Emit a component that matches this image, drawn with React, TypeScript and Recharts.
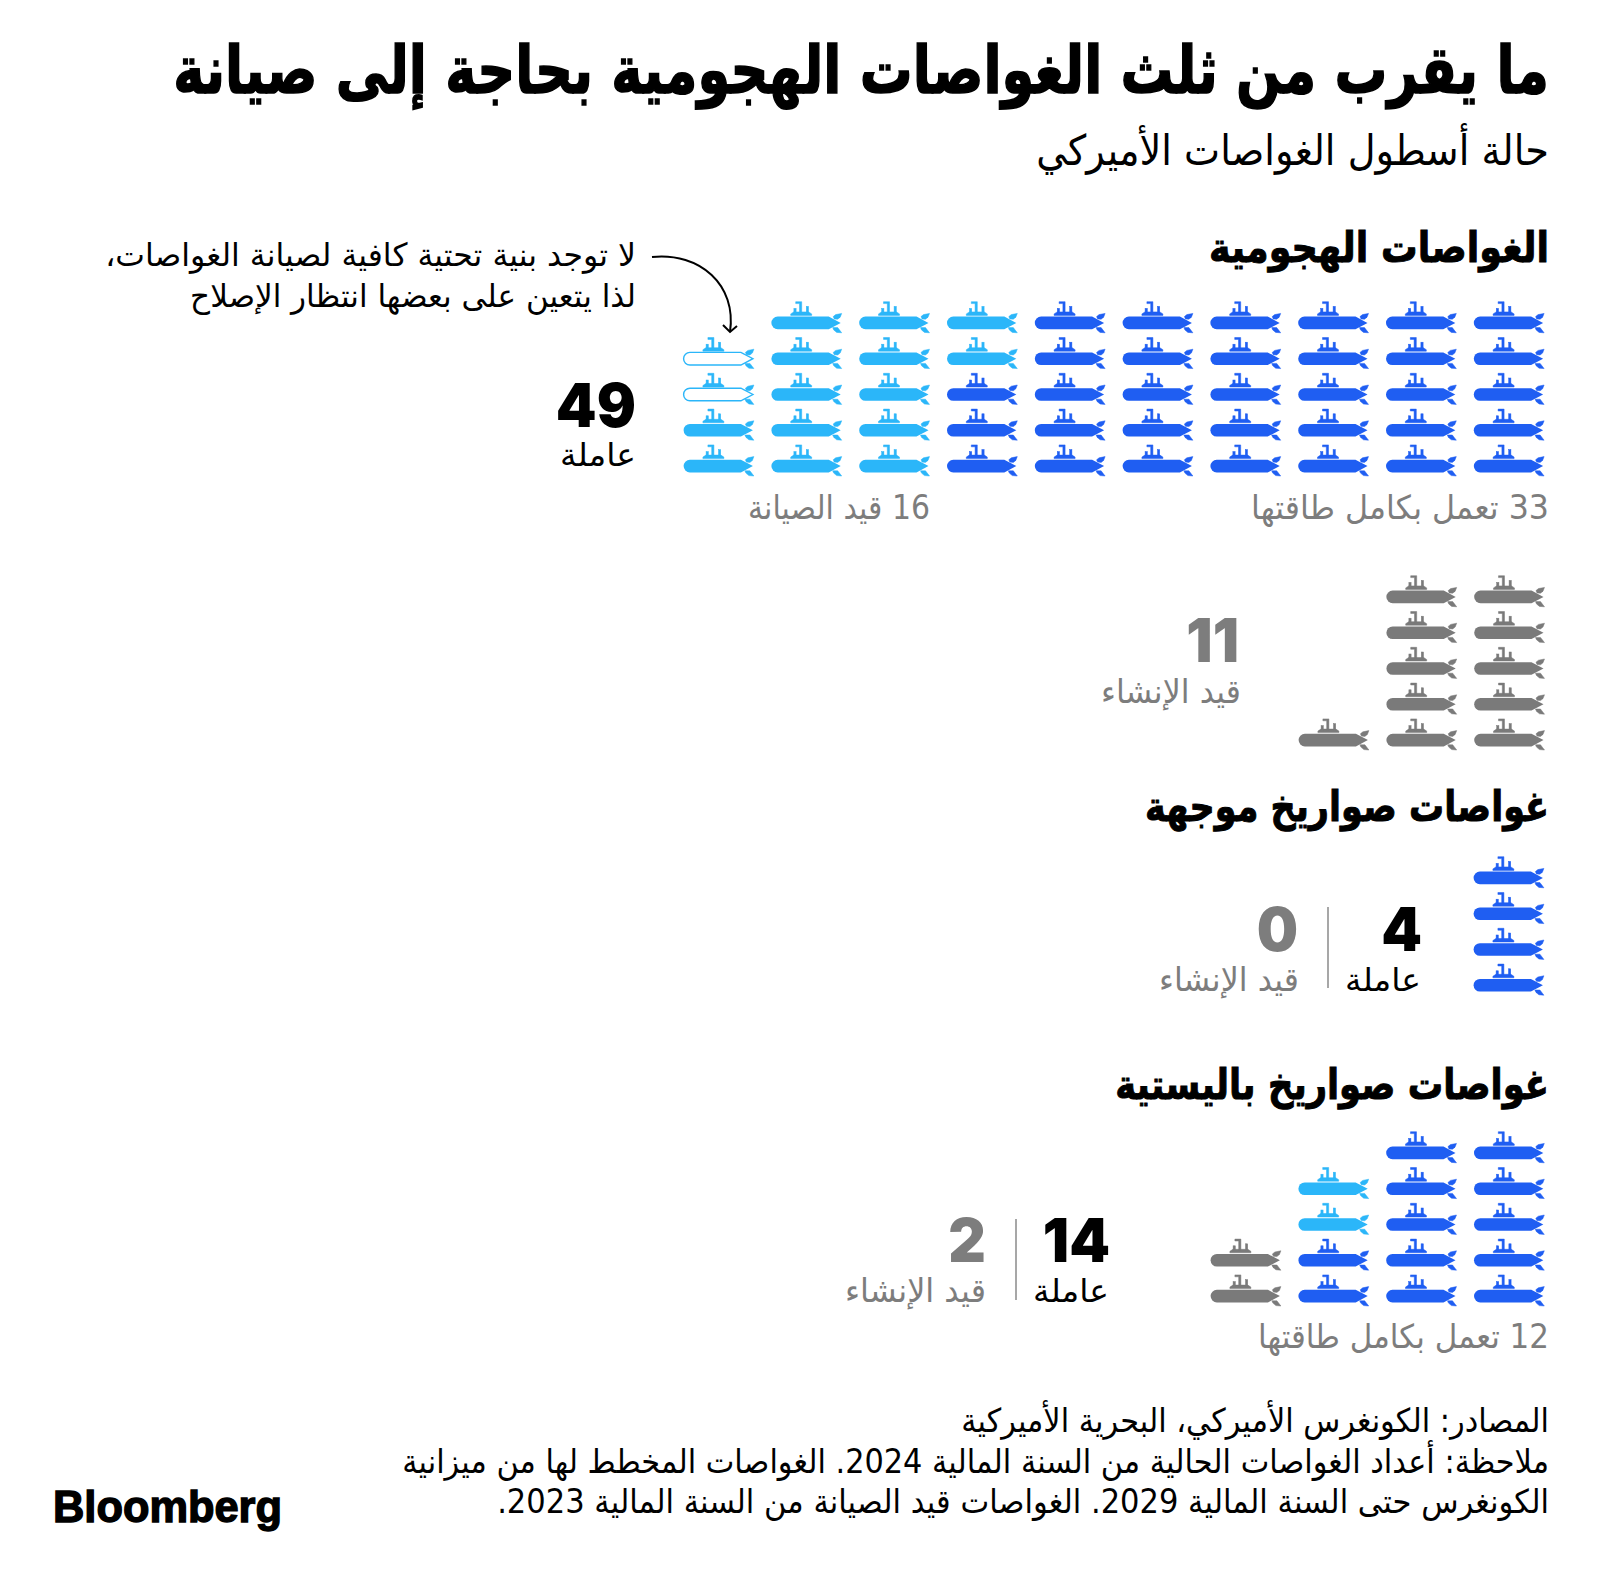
import React from 'react';
import { ScatterChart, Scatter, XAxis, YAxis } from 'recharts';

// F = full capacity, M = in maintenance, O = maintenance (outlined), C = under construction, . = empty
// Columns read from the right edge of the chart, rows from the top
const attackRows = [
  'FFFFFFMMM.',
  'FFFFFFMMMO',
  'FFFFFFFMMO',
  'FFFFFFFMMM',
  'FFFFFFFMMM',
];
const constructionRows = [
  'CC.',
  'CC.',
  'CC.',
  'CC.',
  'CCC',
];
const cruiseRows = ['F', 'F', 'F', 'F'];
const ballisticRows = [
  'FF..',
  'FFM.',
  'FFM.',
  'FFFC',
  'FFFC',
];

const statuses = ['F', 'M', 'O', 'C'];

const COLORS: Record<string, string> = {
  F: '#1f5ef2',
  M: '#2bb6f9',
  O: '#2bb6f9',
  C: '#7a7a7a',
};

const COL_W = 87.8;
const ROW_H = 35.8;
const PAD = 6;
const ARABIC = '"DejaVu Sans", sans-serif';
const LATIN = 'Inter, "Liberation Sans", sans-serif';
const GREY = '#7d7d7d';

function Submarine({ cx, cy, status }: any) {
  const color = COLORS[status];
  const outlined = status === 'O';
  return (
    <g transform={`translate(${cx},${cy})`} fill={color} stroke={color} strokeWidth={0.5}>
      <path
        d="M-29,-6.3 L22,-6.3 L34,0 L22,6.3 L-29,6.3 A6.3,6.3 0 0 1 -29,-6.3 Z"
        fill={outlined ? '#fff' : color}
        strokeWidth={outlined ? 1.4 : 0}
      />
      <path d="M26.5,-6.3 L29,-8.3 L35,-9.5 L33.5,-5.7 L31,-3.7 L27.5,-4 Z" />
      <path d="M26,4.7 L31,4.7 L35,9.9 L30,9.5 L27,7 Z" />
      <path d="M-16,-7.5 L5,-7.5 L5,-9 L2,-11 L-13,-11 L-16,-9 Z" />
      <path d="M-11,-21.2 L-5,-21.2 L-5,-10 L-7.2,-10 L-7.2,-19.3 L-11,-19.3 Z" />
      <rect x={-0.4} y={-16.5} width={2.2} height={7} />
      <rect x={-12.8} y={-14.5} width={2.2} height={5} />
    </g>
  );
}

function SubGrid({ rows, right, bottom }: { rows: string[]; right: number; bottom: number }) {
  const nCols = rows[0].length;
  const nRows = rows.length;
  const width = nCols * COL_W;
  const height = nRows * ROW_H + PAD;
  const points = rows.flatMap((line, row) =>
    line.split('').map((status, col) => ({ col: col + 0.5, row: row + 0.5, status }))
  );
  return (
    <div style={{ position: 'absolute', left: right - width, top: bottom - height, width, height }}>
      <ScatterChart width={width} height={height} margin={{ top: PAD, right: 0, bottom: 0, left: 0 }}>
        <XAxis type="number" dataKey="col" domain={[0, nCols]} reversed hide />
        <YAxis type="number" dataKey="row" domain={[0, nRows]} reversed hide />
        {statuses.map((s) => (
          <Scatter
            key={s}
            data={points.filter((p) => p.status === s)}
            isAnimationActive={false}
            shape={(props: any) => <Submarine cx={props.cx} cy={props.cy} status={s} />}
          />
        ))}
      </ScatterChart>
    </div>
  );
}

const measureCtx = document.createElement('canvas').getContext('2d') as CanvasRenderingContext2D;

// DejaVu's Arabic runs wide, so squeeze each line to the width it has in the reference
function Ar({ x, y, w, size, bold, stroke = 1, color = '#000', children }: any) {
  measureCtx.font = `${bold ? 700 : 400} ${size}px ${ARABIC}`;
  measureCtx.direction = 'rtl';
  const sx = w / measureCtx.measureText(children).width;
  return (
    <text
      transform={`translate(${x},${y}) scale(${sx},1)`}
      direction="rtl"
      textAnchor="start"
      fontFamily={ARABIC}
      fontSize={size}
      fontWeight={bold ? 700 : 400}
      fill={color}
      stroke={bold ? color : 'none'}
      strokeWidth={bold ? stroke : 0}
    >
      {children}
    </text>
  );
}

function Num({ x, y, color = '#000', children }: any) {
  return (
    <text
      transform={`translate(${x},${y}) scale(0.97,1)`}
      textAnchor="end"
      fontFamily={LATIN}
      fontSize={60}
      fontWeight={900}
      fill={color}
    >
      {children}
    </text>
  );
}

export default function App() {
  return (
    <div style={{ position: 'absolute', left: 0, top: 0, width: 1600, height: 1594, background: '#fff', overflow: 'hidden' }}>
      <SubGrid rows={attackRows} right={1552.9} bottom={483.9} />
      <SubGrid rows={constructionRows} right={1552.9} bottom={757.9} />
      <SubGrid rows={cruiseRows} right={1552.9} bottom={1002.9} />
      <SubGrid rows={ballisticRows} right={1552.9} bottom={1313.9} />

      <svg width={1600} height={1594} style={{ position: 'absolute', left: 0, top: 0 }}>
        <Ar x={1549} y={93} w={1376} size={66} bold stroke={1.6}>ما يقرب من ثلث الغواصات الهجومية بحاجة إلى صيانة</Ar>
        <Ar x={1549} y={165} w={513} size={42}>حالة أسطول الغواصات الأميركي</Ar>

        <Ar x={1549} y={262} w={340} size={42} bold>الغواصات الهجومية</Ar>
        <Ar x={636} y={266} w={531} size={32}>لا توجد بنية تحتية كافية لصيانة الغواصات،</Ar>
        <Ar x={636} y={307} w={446} size={32}>لذا يتعين على بعضها انتظار الإصلاح</Ar>
        <path d="M652,257 C700,252 737,285 730,332" fill="none" stroke="#000" strokeWidth={2} />
        <path d="M723,325 L730,332 L737,326" fill="none" stroke="#000" strokeWidth={2} />

        <Num x={636} y={427}>49</Num>
        <Ar x={636} y={466} w={76} size={32}>عاملة</Ar>
        <Ar x={930} y={519} w={182} size={33} color={GREY}>16 قيد الصيانة</Ar>
        <Ar x={1549} y={519} w={298} size={33} color={GREY}>33 تعمل بكامل طاقتها</Ar>

        <Num x={1239} y={662} color={GREY}>11</Num>
        <Ar x={1241} y={703} w={140} size={33} color={GREY}>قيد الإنشاء</Ar>

        <Ar x={1549} y={821} w={404} size={42} bold>غواصات صواريخ موجهة</Ar>
        <Num x={1422} y={951}>4</Num>
        <Ar x={1421} y={991} w={76} size={32}>عاملة</Ar>
        <line x1={1328} y1={907} x2={1328} y2={988} stroke="#8a8a8a" strokeWidth={1.5} />
        <Num x={1298} y={951} color={GREY}>0</Num>
        <Ar x={1299} y={991} w={140} size={33} color={GREY}>قيد الإنشاء</Ar>

        <Ar x={1549} y={1099} w={434} size={42} bold>غواصات صواريخ باليستية</Ar>
        <Num x={1110} y={1262}>14</Num>
        <Ar x={1109} y={1302} w={76} size={32}>عاملة</Ar>
        <line x1={1016} y1={1219} x2={1016} y2={1300} stroke="#8a8a8a" strokeWidth={1.5} />
        <Num x={986} y={1262} color={GREY}>2</Num>
        <Ar x={986} y={1302} w={141} size={33} color={GREY}>قيد الإنشاء</Ar>
        <Ar x={1549} y={1348} w={291} size={33} color={GREY}>12 تعمل بكامل طاقتها</Ar>

        <Ar x={1549} y={1432} w={588} size={33}>المصادر: الكونغرس الأميركي، البحرية الأميركية</Ar>
        <Ar x={1549} y={1473} w={1147} size={33}>ملاحظة: أعداد الغواصات الحالية من السنة المالية 2024. الغواصات المخطط لها من ميزانية</Ar>
        <Ar x={1549} y={1513} w={1052} size={33}>الكونغرس حتى السنة المالية 2029. الغواصات قيد الصيانة من السنة المالية 2023.</Ar>

        <text x={53} y={1522} textLength={229} lengthAdjust="spacingAndGlyphs" fontFamily={'"Liberation Sans", sans-serif'} fontSize={44} fontWeight={700} fill="#000" stroke="#000" strokeWidth={1.4}>
          Bloomberg
        </text>
      </svg>
    </div>
  );
}
